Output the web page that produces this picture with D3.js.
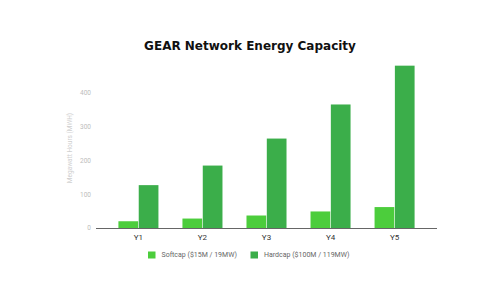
<!DOCTYPE html>
<html>
<head>
<meta charset="utf-8">
<script src="https://cdn.jsdelivr.net/npm/d3@7"></script>
<style>
  body { margin: 0; background: #fff; }
  text { font-family: Roboto, sans-serif; }
</style>
</head>
<body>
<div class="stage"></div>
<script>
var categories = ["Y1", "Y2", "Y3", "Y4", "Y5"];
var softcap = [20, 28, 37, 49, 62];
var hardcap = [127, 185, 265, 366, 481];
var seriesNames = ["Softcap ($15M / 19MW)", "Hardcap ($100M / 119MW)"];
var yTicks = [0, 100, 200, 300, 400];

var colors = ["#4ccd3c", "#3bae4a"];

var svg = d3.select(".stage").append("svg").attr("width", 500).attr("height", 297);

var x = d3.scaleBand().domain(categories).range([96, 437])
  .paddingInner(0.375).paddingOuter(0.35);
var inner = d3.scaleBand().domain([0, 1]).range([0, x.bandwidth()]).paddingInner(0.03);
var y = d3.scaleLinear().domain([0, 400]).range([228, 93]);

// title
svg.append("text")
  .attr("x", 250).attr("y", 50)
  .attr("text-anchor", "middle")
  .style("font-family", "'DejaVu Sans', Verdana, sans-serif")
  .style("font-weight", "bold")
  .style("font-size", "12px")
  .attr("fill", "#111")
  .text("GEAR Network Energy Capacity");

// y tick labels
svg.selectAll("text.ytick").data(yTicks).enter()
  .append("text")
  .attr("class", "ytick")
  .attr("x", 91)
  .attr("y", function(d){ return y(d); })
  .attr("dy", "0.35em")
  .attr("text-anchor", "end")
  .style("font-size", "6.5px")
  .attr("fill", "#bdbdbd")
  .text(function(d){ return d; });

// y axis title
svg.append("text")
  .attr("transform", "translate(70,148) rotate(-90)")
  .attr("text-anchor", "middle")
  .attr("dy", "0.35em")
  .style("font-size", "6.5px")
  .attr("fill", "#cfcfcf")
  .text("Megawatt Hours (MWH)");

// bars
var series = [softcap, hardcap];
series.forEach(function(vals, s){
  svg.selectAll("rect.s" + s).data(vals).enter()
    .append("rect")
    .attr("class", "s" + s)
    .attr("x", function(d, i){ return x(categories[i]) + inner(s); })
    .attr("width", inner.bandwidth())
    .attr("y", function(d){ return y(d); })
    .attr("height", function(d){ return y(0) - y(d); })
    .attr("fill", colors[s]);
});

// baseline
svg.append("line")
  .attr("x1", 96).attr("x2", 437)
  .attr("y1", y(0) + 0.5).attr("y2", y(0) + 0.5)
  .attr("stroke", "#666").attr("stroke-width", 1);

// category labels
svg.selectAll("text.cat").data(categories).enter()
  .append("text")
  .attr("class", "cat")
  .attr("x", function(d){ return x(d) + x.bandwidth() / 2; })
  .attr("y", 237)
  .attr("dy", "0.35em")
  .attr("text-anchor", "middle")
  .style("font-size", "8px")
  .attr("fill", "#333")
  .text(function(d){ return d; });

// legend
var legendX = [148, 250.5];
seriesNames.forEach(function(name, s){
  svg.append("rect")
    .attr("x", legendX[s]).attr("y", 251.5)
    .attr("width", 7.5).attr("height", 7)
    .attr("fill", colors[s]);
  svg.append("text")
    .attr("x", legendX[s] + 13.5).attr("y", 255)
    .attr("dy", "0.35em")
    .style("font-size", "7px")
    .attr("fill", "#666")
    .text(name);
});
</script>
</body>
</html>
